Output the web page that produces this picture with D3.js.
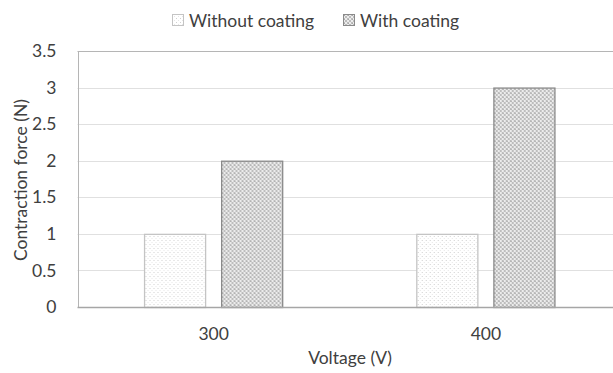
<!DOCTYPE html>
<html>
<head>
<meta charset="utf-8">
<script src="https://cdn.jsdelivr.net/npm/d3@7"></script>
<style>
  html, body { margin: 0; padding: 0; background: #fff; overflow: hidden; }
  svg { display: block; font-family: Lato, "Open Sans", sans-serif; }
</style>
</head>
<body>
<svg id="chart" width="613" height="373"></svg>
<script>
// Contraction force measured at each drive voltage
const categories = ["300", "400"];
const seriesNames = ["Without coating", "With coating"];
const withoutCoating = [1, 1];
const withCoating = [2, 3];
const yTicks = [0, 0.5, 1, 1.5, 2, 2.5, 3, 3.5];

const svg = d3.select("#chart");
const margin = { left: 77.5, top: 51, right: -9, bottom: 66 };
const W = 613, H = 373;
const FS = 17.5;
const textColor = "#404040";

// Fill patterns for the two series
const defs = svg.append("defs");
const pLight = defs.append("pattern").attr("id", "dots").attr("width", 4).attr("height", 4)
  .attr("patternUnits", "userSpaceOnUse");
pLight.append("rect").attr("width", 4).attr("height", 4).attr("fill", "#ffffff");
pLight.append("rect").attr("x", 0).attr("y", 0).attr("width", 1).attr("height", 1).attr("fill", "#d0d0d0");
pLight.append("rect").attr("x", 2).attr("y", 2).attr("width", 1).attr("height", 1).attr("fill", "#e6e6e6");

const pDark = defs.append("pattern").attr("id", "checks").attr("width", 4).attr("height", 4)
  .attr("patternUnits", "userSpaceOnUse");
pDark.append("rect").attr("width", 4).attr("height", 4).attr("fill", "#ececec");
pDark.append("rect").attr("x", 0).attr("y", 0).attr("width", 2).attr("height", 2).attr("fill", "#bdbdbd");
pDark.append("rect").attr("x", 2).attr("y", 2).attr("width", 2).attr("height", 2).attr("fill", "#bdbdbd");
pDark.append("rect").attr("x", 1).attr("y", 1).attr("width", 1).attr("height", 1).attr("fill", "#a8a8a8");

const x0 = d3.scaleBand().domain(categories).range([margin.left, W - margin.right]).paddingInner(0).paddingOuter(0);
const x1 = d3.scaleBand().domain(seriesNames).range([0, x0.bandwidth()]).paddingInner(0.208).paddingOuter(0.87);
const y = d3.scaleLinear().domain([0, 3.5]).range([H - margin.bottom, margin.top]);

// Gridlines
svg.append("g").selectAll("line").data(yTicks.slice(1, -1)).join("line")
  .attr("x1", margin.left).attr("x2", W - margin.right)
  .attr("y1", d => Math.round(y(d)) + 0.5).attr("y2", d => Math.round(y(d)) + 0.5)
  .attr("stroke", "#e0e0e0").attr("stroke-width", 1);

// Plot frame (top and left)
svg.append("line").attr("x1", margin.left).attr("x2", W - margin.right)
  .attr("y1", Math.round(y(3.5)) + 0.5).attr("y2", Math.round(y(3.5)) + 0.5)
  .attr("stroke", "#b5b5b5");
svg.append("line").attr("x1", 78.5).attr("x2", 78.5)
  .attr("y1", y(3.5)).attr("y2", y(0))
  .attr("stroke", "#b5b5b5");

// Bars
const rows = categories.map((c, i) => ({ cat: c, vals: [withoutCoating[i], withCoating[i]] }));
const fills = ["url(#dots)", "url(#checks)"];
const strokes = ["#c4c4c4", "#8a8a8a"];
svg.append("g").selectAll("g").data(rows).join("g")
  .attr("transform", d => `translate(${x0(d.cat)},0)`)
  .selectAll("rect").data(d => d.vals.map((v, j) => ({ v, j })))
  .join("rect")
  .attr("x", d => x1(seriesNames[d.j]))
  .attr("width", x1.bandwidth())
  .attr("y", d => y(d.v) + 0.5)
  .attr("height", d => y(0) - y(d.v))
  .attr("fill", d => fills[d.j])
  .attr("stroke", d => strokes[d.j])
  .attr("stroke-width", 1.3);

// X axis baseline
svg.append("line").attr("x1", margin.left).attr("x2", W - margin.right)
  .attr("y1", Math.round(y(0)) + 0.5).attr("y2", Math.round(y(0)) + 0.5)
  .attr("stroke", "#a6a6a6").attr("stroke-width", 1.5);

// Y axis labels
const yAxis = d3.axisLeft(y).tickValues(yTicks).tickSize(0).tickPadding(21).tickFormat(d3.format("~g"));
const gy = svg.append("g").attr("transform", `translate(${margin.left},0)`).call(yAxis);
gy.select(".domain").remove();
gy.selectAll("text").attr("font-size", FS).attr("fill", textColor).attr("font-family", "Lato, sans-serif");

// X axis labels
const xAxis = d3.axisBottom(x0).tickSize(0).tickPadding(21);
const gx = svg.append("g").attr("transform", `translate(0,${y(0)})`).call(xAxis);
gx.select(".domain").remove();
gx.selectAll("text").attr("font-size", FS).attr("fill", textColor).attr("font-family", "Lato, sans-serif");

// Axis titles
svg.append("text").attr("x", 350).attr("y", 364).attr("text-anchor", "middle")
  .attr("font-size", FS).attr("fill", textColor).text("Voltage (V)");
svg.append("text").attr("transform", "translate(27,180) rotate(-90)").attr("text-anchor", "middle")
  .attr("font-size", FS).attr("fill", textColor).text("Contraction force (N)");

// Legend
const legendX = [172, 343];
const lg = svg.append("g").selectAll("g").data(seriesNames).join("g")
  .attr("transform", (d, i) => `translate(${legendX[i]},14)`);
lg.append("rect").attr("x", 0.5).attr("y", 0.5).attr("width", 11).attr("height", 11)
  .attr("fill", (d, i) => fills[i]).attr("stroke", (d, i) => strokes[i]);
lg.append("text").attr("x", 17).attr("y", 13).attr("font-size", FS).attr("fill", textColor).text(d => d);
</script>
</body>
</html>
